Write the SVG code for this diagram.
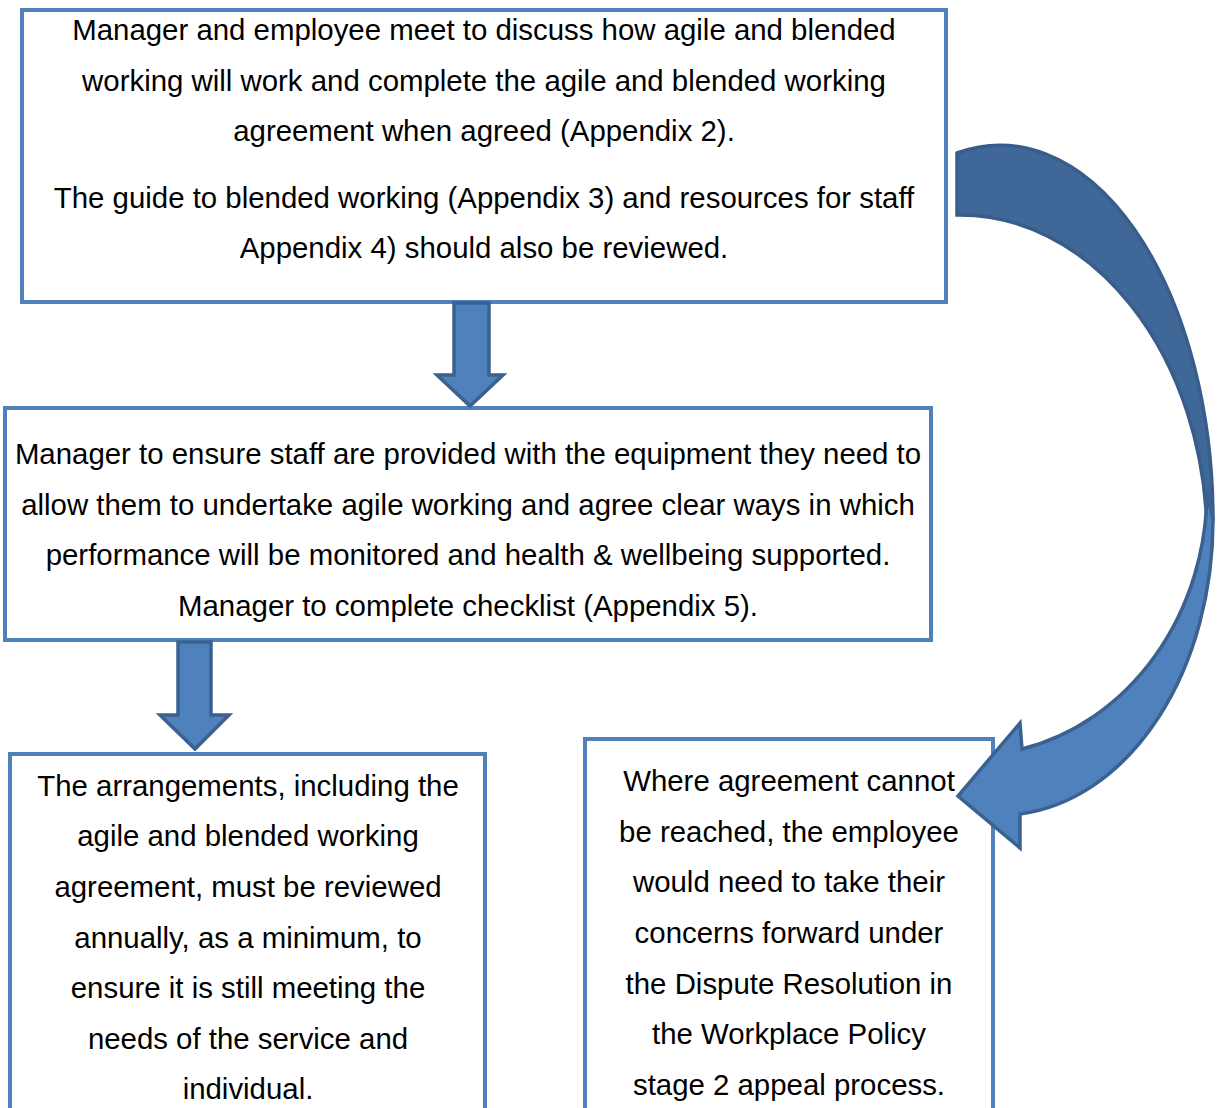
<svg xmlns="http://www.w3.org/2000/svg" width="1220" height="1108" viewBox="0 0 1220 1108">
<style>
.box{fill:#fff;stroke:#4F81BD;stroke-width:4}
.t{font-family:"Liberation Sans",Arial,sans-serif;font-size:29.4px;fill:#000;text-anchor:middle}
.arr{fill:#4F81BD;stroke:#3A6190;stroke-width:3.5;stroke-linejoin:miter}
.dark{fill:#3F6898;stroke:#385D8A;stroke-width:3.5}
</style>
<rect width="1220" height="1108" fill="#fff"/>
<g id="n1">
<rect class="box" x="22" y="10" width="924" height="292"/>
<text class="t" x="484" y="40">Manager and employee meet to discuss how agile and blended</text>
<text class="t" x="484" y="91">working will work and complete the agile and blended working</text>
<text class="t" x="484" y="141">agreement when agreed (Appendix 2).</text>
<text class="t" x="484" y="208">The guide to blended working (Appendix 3) and resources for staff</text>
<text class="t" x="484" y="258">Appendix 4) should also be reviewed.</text>
</g>
<g id="n2">
<rect class="box" x="5" y="408" width="926" height="232"/>
<text class="t" x="468" y="464">Manager to ensure staff are provided with the equipment they need to</text>
<text class="t" x="468" y="515">allow them to undertake agile working and agree clear ways in which</text>
<text class="t" x="468" y="565">performance will be monitored and health &amp; wellbeing supported.</text>
<text class="t" x="468" y="616">Manager to complete checklist (Appendix 5).</text>
</g>
<g id="n3">
<rect class="box" x="10" y="754" width="475" height="380"/>
<text class="t" x="248" y="796">The arrangements, including the</text>
<text class="t" x="248" y="846">agile and blended working</text>
<text class="t" x="248" y="897">agreement, must be reviewed</text>
<text class="t" x="248" y="948">annually, as a minimum, to</text>
<text class="t" x="248" y="998">ensure it is still meeting the</text>
<text class="t" x="248" y="1049">needs of the service and</text>
<text class="t" x="248" y="1099">individual.</text>
</g>
<g id="n4">
<rect class="box" x="585" y="739" width="408" height="390"/>
<text class="t" x="789" y="791">Where agreement cannot</text>
<text class="t" x="789" y="842">be reached, the employee</text>
<text class="t" x="789" y="892">would need to take their</text>
<text class="t" x="789" y="943">concerns forward under</text>
<text class="t" x="789" y="994">the Dispute Resolution in</text>
<text class="t" x="789" y="1044">the Workplace Policy</text>
<text class="t" x="789" y="1095">stage 2 appeal process.</text>
</g>
<g id="connectors">
<polygon class="arr" points="454,303 489,303 489,375 503,375 470,406 437,375 454,375"/>
<polygon class="arr" points="178,642 211,642 211,715 229,715 195,749 160,715 178,715"/>
<path class="dark" d="M957,153 A213,375 0 0 1 1213,520 L1207,530 A247,325 0 0 0 957,215 Z"/>
<path class="arr" d="M1213,520 A213,295 0 0 1 1020,814 L1020,848 L958,796 L1020,723 L1022,749 A237,265 0 0 0 1207,490 Z"/>
</g>
</svg>
